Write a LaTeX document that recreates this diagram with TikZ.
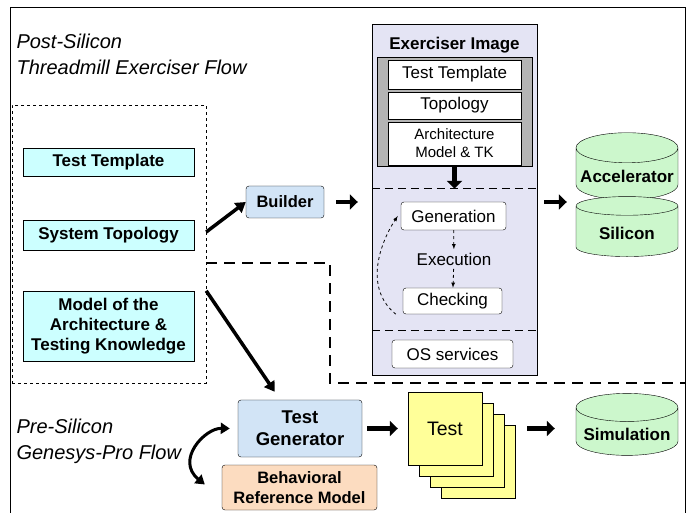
\documentclass[tikz,border=0pt]{standalone}
\usepackage{fontspec}
\setmainfont{Liberation Sans}
\usepackage{tikz}
\usetikzlibrary{arrows.meta}
\usetikzlibrary{positioning}
\usetikzlibrary{shapes.geometric}
\definecolor{inputcyan}{HTML}{CCFFFF}
\definecolor{toolblue}{HTML}{D2E4F6}
\definecolor{imagelilac}{HTML}{E4E4F4}
\definecolor{drumgreen}{HTML}{CCF7CC}
\definecolor{modelpeach}{HTML}{FCDCC0}
\definecolor{pageyellow}{HTML}{FFFF99}
\definecolor{framegray}{HTML}{B4B4B4}
\tikzstyle{inbox}=[draw, fill=inputcyan, minimum width=171pt, font=\bfseries\fontsize{17}{20}\selectfont, align=center]
\tikzstyle{tool}=[draw, rounded corners=3pt, fill=toolblue, font=\bfseries\fontsize{16.5}{20}\selectfont, align=center]
\tikzstyle{slot}=[draw, fill=white, minimum width=133pt, font=\fontsize{17}{19}\selectfont, align=center]
\tikzstyle{stage}=[draw, fill=white, rounded corners=3pt, font=\fontsize{17}{19}\selectfont]
\tikzstyle{drum}=[draw, cylinder, shape border rotate=90, fill=drumgreen, minimum width=102pt, aspect=0.3, font=\bfseries\fontsize{17}{19}\selectfont]
\tikzstyle{page}=[draw, fill=pageyellow, minimum width=74pt, minimum height=73pt]
\tikzstyle{blockarrow}=[line width=4.5pt, -{Triangle[length=8pt,width=15pt]}]
\tikzstyle{fatarrow}=[line width=3.5pt, -{Triangle[length=10pt,width=12pt]}]
\tikzstyle{flowtitle}=[anchor=west, font=\itshape\fontsize{20}{26}\selectfont, align=left]
\tikzset{>=latex}

\begin{document}
\begin{tikzpicture}[x=1pt, y=-1pt]
    \useasboundingbox (0, 0) rectangle (689, 513);
    \draw (10, 513) |- (685, 7) -- (685, 513);

    \draw node at (13, 54) [flowtitle] (post) {Post-Silicon\\Threadmill Exerciser Flow};
    \draw node at (13, 441) [flowtitle] (pre) {Pre-Silicon\\Genesys-Pro Flow};

    \draw node at (109, 244) [draw, dashed, minimum width=194pt, minimum height=278pt] (inputs) {};
    \draw node at (108.5, 162) [inbox, minimum height=28pt] (tmpl) {Test Template};
    \draw node at (108.5, 235) [inbox, minimum height=30pt] (topo) {System Topology};
    \draw node at (108.5, 326) [inbox, minimum height=70pt] (arch) {Model of the\\Architecture \&\\Testing Knowledge};

    \draw node at (285, 202) [tool, minimum width=78pt, minimum height=32pt] (builder) {Builder};

    \draw node at (454.5, 199.5) [draw, fill=imagelilac, minimum width=165pt, minimum height=351pt] (exer) {};
    \draw node at (454.5, 45) [font=\bfseries\fontsize{17}{19}\selectfont] (exertitle) {Exerciser Image};
    \draw node at (454.5, 111.5) [draw, fill=framegray, minimum width=155pt, minimum height=109pt] (bundle) {};
    \draw node at (454.5, 74.5) [slot, minimum height=29pt] (xtmpl) {Test Template};
    \draw node at (454.5, 105.5) [slot, minimum height=27pt] (xtopo) {Topology};
    \draw node at (454.5, 143.5) [slot, minimum height=43pt, font=\fontsize{15}{18}\selectfont] (xarch) {Architecture\\Model \& TK};
    \draw [line width=0.9pt, dash pattern=on 8pt off 5pt] (exer.west |- 0, 188) -- (exer.east |- 0, 188);
    \draw [line width=0.9pt, dash pattern=on 8pt off 5pt] (exer.west |- 0, 330) -- (exer.east |- 0, 330);
    \draw node at (453.5, 216) [stage, minimum width=105pt, minimum height=28pt] (gen) {Generation};
    \draw node at (454, 259) [font=\fontsize{17}{19}\selectfont] (exec) {Execution};
    \draw node at (452.5, 301) [stage, minimum width=99pt, minimum height=26pt] (chk) {Checking};
    \draw node at (452.5, 354) [stage, minimum width=121pt, minimum height=28pt] (os) {OS services};

    \draw node at (627, 176.5) [drum, minimum height=67pt] (acc) {Accelerator};
    \draw node at (627, 233) [drum, minimum height=60pt] (sil) {Silicon};
    \draw node at (627, 434) [drum, minimum height=62pt] (sim) {Simulation};

    \draw [line width=2.5pt, dash pattern=on 11pt off 7pt] (inputs.east |- 0, 263) -- (330, 263) -- (330, 383) -- (685, 383);

    \draw node at (300, 428.5) [tool, minimum width=124pt, minimum height=57pt, font=\bfseries\fontsize{18.5}{22}\selectfont] (tgen) {Test\\Generator};
    \draw node at (299.5, 487.5) [tool, fill=modelpeach, minimum width=155pt, minimum height=45pt] (brm) {Behavioral\\Reference Model};

    \draw node at (478, 461.5) [page] (page4) {};
    \draw node at (467, 450.5) [page] (page3) {};
    \draw node at (456, 439.5) [page] (page2) {};
    \draw node at (445, 428.5) [page, font=\fontsize{19.5}{22}\selectfont] (page1) {Test};

    \draw [fatarrow] ([yshift=3pt]inputs.east |- topo.east) to (builder.west);
    \draw [blockarrow, shorten <=12pt, shorten >=14pt] (builder.east) -- (exer.west |- builder.east);
    \draw [blockarrow, shorten <=7pt, shorten >=9pt] (exer.east |- builder.east) -- (acc.west |- builder.east);
    \draw [blockarrow, shorten >=13pt] (xarch.south) -- (xarch.south |- gen.north);
    \draw [dashed, line width=0.8pt, ->] (gen) -- (exec);
    \draw [dashed, line width=0.8pt, ->] (exec) -- (chk);
    \draw [dashed, line width=0.8pt, ->] ([xshift=-7pt]chk.south west) .. controls (360, 285) and (385, 235) .. ([xshift=-3pt]gen.west);
    \draw [fatarrow] (inputs.east |- arch.north) to ([xshift=37pt, yshift=8pt]tgen.north west);
    \draw [blockarrow, shorten <=5pt, shorten >=10pt] (tgen.east) -- (page1.west);
    \draw [blockarrow, shorten <=12pt, shorten >=21pt] (page4.east |- page1.east) -- (sim.west |- page1.east);
    \draw [line width=3pt, {Triangle[length=9pt,width=11pt]}-{Triangle[length=9pt,width=11pt]}] ([xshift=-8pt]tgen.west) .. controls (205, 428) and (175, 460) .. ([xshift=-17pt, yshift=3pt]brm.west);
\end{tikzpicture}
\end{document}
